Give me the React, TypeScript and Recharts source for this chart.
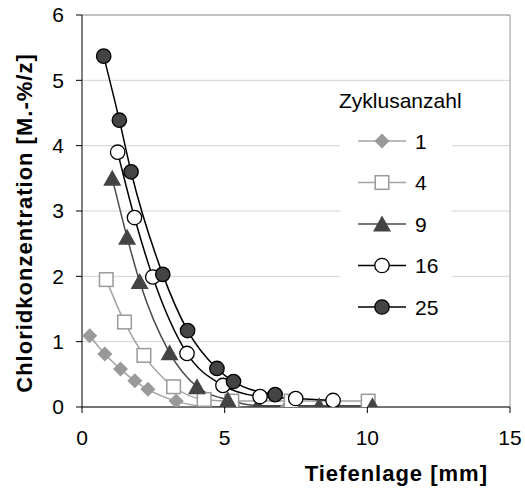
import { CartesianGrid, Label, Legend, Line, LineChart, ReferenceLine, XAxis, YAxis } from 'recharts';

const FONT = '"Liberation Sans", Arial, sans-serif';

// Tiefenlage [mm] / Chloridkonzentration [M.-%/z] per Zyklusanzahl
const depth1 = [0.27, 0.8, 1.35, 1.85, 2.31, 3.3, 4.29, 5.33, 7.19];
const conc1 = [1.09, 0.81, 0.58, 0.4, 0.27, 0.09, 0.01, 0, 0];

const depth4 = [0.85, 1.49, 2.17, 3.21, 4.28, 5.25, 7.33, 10.03];
const conc4 = [1.95, 1.3, 0.79, 0.31, 0.115, 0.09, 0.09, 0.09];

const depth9 = [1.06, 1.58, 2.02, 3.07, 4.03, 5.11, 6.16, 8.31, 10.18];
const conc9 = [3.5, 2.6, 1.92, 0.83, 0.31, 0.11, 0.02, 0.02, 0.02];

const depth16 = [1.25, 1.84, 2.48, 3.68, 4.94, 6.24, 7.49, 8.8];
const conc16 = [3.9, 2.9, 1.99, 0.82, 0.33, 0.16, 0.13, 0.1];

const depth25 = [0.76, 1.31, 1.72, 2.83, 3.7, 4.73, 5.31, 6.77];
const conc25 = [5.37, 4.39, 3.6, 2.03, 1.17, 0.59, 0.39, 0.19];

const xTicks = [0, 5, 10, 15];
const yTicks = [0, 1, 2, 3, 4, 5, 6];

type Shape = 'diamond' | 'square' | 'triangle' | 'circle' | 'dot';

const zip = (xs: number[], ys: number[]) => xs.map((x, i) => ({ x, y: ys[i] }));

const series: { name: string; data: { x: number; y: number }[]; line: string; shape: Shape }[] = [
  { name: '1', data: zip(depth1, conc1), line: '#a3a3a3', shape: 'diamond' },
  { name: '4', data: zip(depth4, conc4), line: '#a3a3a3', shape: 'square' },
  { name: '9', data: zip(depth9, conc9), line: '#4a4a4a', shape: 'triangle' },
  { name: '16', data: zip(depth16, conc16), line: '#000000', shape: 'circle' },
  { name: '25', data: zip(depth25, conc25), line: '#000000', shape: 'dot' },
];

function Marker({ shape, cx, cy }: { shape: Shape; cx: number; cy: number }) {
  switch (shape) {
    case 'diamond':
      return <polygon points={`${cx},${cy - 7.5} ${cx + 7.5},${cy} ${cx},${cy + 7.5} ${cx - 7.5},${cy}`} fill="#999999" />;
    case 'square':
      return <rect x={cx - 6.8} y={cy - 6.8} width={13.6} height={13.6} fill="#fff" stroke="#999999" strokeWidth={1.5} />;
    case 'triangle':
      return <polygon points={`${cx},${cy - 8.5} ${cx + 9},${cy + 7.5} ${cx - 9},${cy + 7.5}`} fill="#444444" />;
    case 'circle':
      return <circle cx={cx} cy={cy} r={7.2} fill="#fff" stroke="#000" strokeWidth={1.3} />;
    default:
      return <circle cx={cx} cy={cy} r={7.2} fill="#444444" stroke="#000" strokeWidth={1.3} />;
  }
}

const makeDot = (shape: Shape) => (props: any) => {
  const { cx, cy, index } = props;
  return <Marker key={`${shape}-${index}`} shape={shape} cx={cx} cy={cy} />;
};

const renderLegend = () => (
  <svg width={135} height={245} style={{ display: 'block', overflow: 'visible' }}>
    <rect x={1} y={34} width={112} height={208} fill="#fff" />
    <text x={0} y={22} fontSize={21} fontFamily={FONT} fill="#000">
      Zyklusanzahl
    </text>
    {series.map((s, i) => {
      const y = 55 + i * 41.5;
      return (
        <g key={s.name}>
          <line x1={19} x2={67} y1={y} y2={y} stroke={s.line} strokeWidth={1.5} />
          <Marker shape={s.shape} cx={43} cy={y} />
          <text x={76} y={y} dy="0.36em" fontSize={21} fontFamily={FONT} fill="#000">
            {s.name}
          </text>
        </g>
      );
    })}
  </svg>
);

const tickStyle = { fontSize: 21, fontFamily: FONT, fill: '#000' };

export default function App() {
  return (
    <div style={{ position: 'absolute', left: 0, top: 0, background: '#fff' }}>
      <LineChart width={525} height={489} margin={{ top: 15, right: 15, bottom: 0, left: 0 }}>
        <CartesianGrid vertical={false} stroke="#d4d4d4" />
        <ReferenceLine y={6} stroke="#999" />
        <ReferenceLine x={15} stroke="#999" />
        <XAxis
          type="number"
          dataKey="x"
          domain={[0, 15]}
          ticks={xTicks}
          height={82}
          tickSize={6}
          tickMargin={17}
          stroke="#000"
          tick={tickStyle}
          allowDataOverflow
        >
          <Label
            content={() => (
              <text x={488} y={481} textAnchor="end" fontSize={22} fontWeight="bold" letterSpacing={1} fontFamily={FONT} fill="#000">
                Tiefenlage [mm]
              </text>
            )}
          />
        </XAxis>
        <YAxis
          type="number"
          domain={[0, 6]}
          ticks={yTicks}
          width={82}
          tickSize={6}
          tickMargin={12}
          stroke="#000"
          tick={tickStyle}
          allowDataOverflow
        >
          <Label
            content={() => (
              <text
                x={32}
                y={223}
                transform="rotate(-90 32 223)"
                textAnchor="middle"
                fontSize={22}
                fontWeight="bold"
                letterSpacing={1}
                fontFamily={FONT}
                fill="#000"
              >
                Chloridkonzentration [M.-%/z]
              </text>
            )}
          />
        </YAxis>
        <Legend
          layout="vertical"
          align="center"
          verticalAlign="middle"
          content={renderLegend}
          wrapperStyle={{ left: 339, top: 86, width: 135, height: 245 }}
        />
        {series.map((s) => (
          <Line
            key={s.name}
            name={s.name}
            data={s.data}
            dataKey="y"
            type="monotone"
            stroke={s.line}
            strokeWidth={1.5}
            dot={makeDot(s.shape)}
            activeDot={false}
            isAnimationActive={false}
          />
        ))}
      </LineChart>
    </div>
  );
}
